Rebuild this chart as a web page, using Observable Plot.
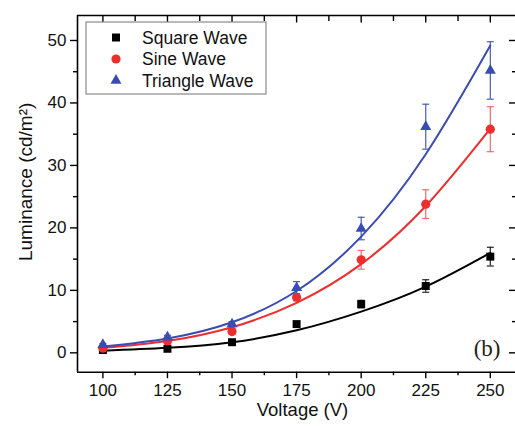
<!DOCTYPE html>
<html>
<head>
<meta charset="utf-8">
<script src="https://cdn.jsdelivr.net/npm/d3@7"></script>
<script src="https://cdn.jsdelivr.net/npm/@observablehq/plot@0.6"></script>
<style>
  html, body { margin: 0; padding: 0; background: #fff; }
  #chart { position: relative; width: 515px; height: 426px; }
</style>
</head>
<body>
<div id="chart"></div>
<script>
// ---- data ----
const voltage = [100, 125, 150, 175, 200, 225, 250];
const seriesNames = ["Square Wave", "Sine Wave", "Triangle Wave"];
const seriesColors = ["#000000", "#ee2e2e", "#3a4cb4"];
const errColors = ["#222222", "#f06a6a", "#4a5cbc"];
const seriesSymbols = ["square", "circle", "triangle"];

const squareLum = [0.45, 0.65, 1.7, 4.6, 7.8, 10.7, 15.4];
const squareErr = [0.15, 0.2, 0.25, 0.4, 0.6, 1.0, 1.5];
const sineLum = [0.75, 1.9, 3.4, 8.9, 14.9, 23.8, 35.8];
const sineErr = [0.2, 0.3, 0.4, 0.6, 1.5, 2.3, 3.6];
const triLum = [1.3, 2.5, 4.6, 10.4, 19.9, 36.2, 45.2];
const triErr = [0.2, 0.3, 0.4, 1.0, 1.8, 3.6, 4.6];

// fitted curves, read at each voltage
const squareFit = [0.35, 0.8, 1.7, 3.6, 6.6, 10.6, 16.0];
const sineFit = [0.8, 1.9, 4.1, 8.0, 14.2, 23.5, 35.9];
const triFit = [1.0, 2.3, 4.9, 9.9, 18.6, 31.8, 49.2];

const xMajor = [100, 125, 150, 175, 200, 225, 250];
const xMinor = [112.5, 137.5, 162.5, 187.5, 212.5, 237.5];
const yMajor = [0, 10, 20, 30, 40, 50];
const yMinor = [5, 15, 25, 35, 45];

// ---- build tables ----
const lums = [squareLum, sineLum, triLum];
const errs = [squareErr, sineErr, triErr];
const fits = [squareFit, sineFit, triFit];
const points = [];
const curves = [];
seriesNames.forEach((s, k) => {
  voltage.forEach((v, i) => {
    points.push({series: s, k, v, lum: lums[k][i], lo: lums[k][i] - errs[k][i], hi: lums[k][i] + errs[k][i]});
    curves.push({series: s, k, v, lum: fits[k][i]});
  });
});

const hline = {draw(ctx, size) { const r = Math.sqrt(size / Math.PI); ctx.moveTo(-r, 0); ctx.lineTo(r, 0); }};
const font = "'Liberation Sans', Arial, sans-serif";
const xDomain = [90.17, 259.75];
const yDomain = [-3.1, 54.0];

const marks = [];
// error bars
seriesNames.forEach((s, k) => {
  const d = points.filter(p => p.k === k);
  marks.push(Plot.ruleX(d, {x: "v", y1: "lo", y2: "hi", stroke: errColors[k], strokeWidth: 1.2}));
  marks.push(Plot.dot(d, {x: "v", y: "hi", symbol: hline, r: 3.5, stroke: errColors[k], strokeWidth: 1.2}));
  marks.push(Plot.dot(d, {x: "v", y: "lo", symbol: hline, r: 3.5, stroke: errColors[k], strokeWidth: 1.2}));
});
// fitted curves
seriesNames.forEach((s, k) => {
  marks.push(Plot.line(curves.filter(p => p.k === k), {x: "v", y: "lum", curve: "natural", stroke: seriesColors[k], strokeWidth: 2}));
});
// markers
const markerR = [4.5, 4.6, 4.1];
seriesNames.forEach((s, k) => {
  marks.push(Plot.dot(points.filter(p => p.k === k), {x: "v", y: "lum", symbol: seriesSymbols[k], r: markerR[k], fill: seriesColors[k], stroke: "none"}));
});

// frame lines (left, top, bottom)
marks.push(Plot.ruleX([xDomain[0]], {stroke: "#000", strokeWidth: 1.6}));
marks.push(Plot.ruleY([yDomain[0], yDomain[1]], {stroke: "#000", strokeWidth: 1.6}));

// axes
marks.push(Plot.axisX(xMajor, {anchor: "bottom", tickSize: 6.5, tickPadding: 5, tickFormat: d => String(d), fontSize: 17, stroke: "#000", strokeWidth: 1.4, label: null}));
marks.push(Plot.axisX(xMinor, {anchor: "bottom", tickSize: 3.5, tickFormat: null, text: null, stroke: "#000", strokeWidth: 1.4, label: null}));
marks.push(Plot.axisX(xMajor, {anchor: "top", tickSize: 6.5, dy: 6.5, text: null, stroke: "#000", strokeWidth: 1.4, label: null}));
marks.push(Plot.axisX(xMinor, {anchor: "top", tickSize: 5, dy: 5, text: null, stroke: "#000", strokeWidth: 1.4, label: null}));
marks.push(Plot.axisY(yMajor, {anchor: "left", tickSize: 7, tickPadding: 4, tickFormat: d => String(d), fontSize: 17, stroke: "#000", strokeWidth: 1.4, label: null}));
marks.push(Plot.axisY(yMinor, {anchor: "left", tickSize: 4, text: null, stroke: "#000", strokeWidth: 1.4, label: null}));
marks.push(Plot.axisY(yMajor, {anchor: "right", tickSize: 7, dx: -7, text: null, stroke: "#000", strokeWidth: 1.4, label: null}));
marks.push(Plot.axisY(yMinor, {anchor: "right", tickSize: 4, dx: -4, text: null, stroke: "#000", strokeWidth: 1.4, label: null}));

// axis titles and panel label
marks.push(Plot.text(["Voltage (V)"], {frameAnchor: "bottom", dx: 6, dy: 44, text: d => d, lineAnchor: "bottom", textAnchor: "middle", fontSize: 18.5, fill: "#111"}));
marks.push(Plot.text(["Luminance (cd/m²)"], {frameAnchor: "left", dx: -52, dy: -12, rotate: -90, text: d => d, textAnchor: "middle", lineAnchor: "middle", fontSize: 19, fill: "#111"}));
marks.push(Plot.text(["(b)"], {frameAnchor: "bottom-right", dx: -15, dy: -16, text: d => d, textAnchor: "end", lineAnchor: "bottom", fontSize: 23, fontFamily: "'Liberation Serif', 'Times New Roman', serif", fill: "#222"}));

const chart = Plot.plot({
  width: 515,
  height: 426,
  marginLeft: 77,
  marginRight: 0,
  marginTop: 15,
  marginBottom: 54.3,
  x: {domain: xDomain},
  y: {domain: yDomain},
  style: {fontFamily: font, fontSize: "17px", color: "#111", background: "#fff"},
  marks
});

// legend inside the plot (drawn on top)
const svg = d3.select(chart.tagName.toLowerCase() === "svg" ? chart : chart.querySelector("svg"));
const lg = svg.append("g").attr("transform", "translate(86,22)");
lg.append("rect").attr("width", 180).attr("height", 72).attr("fill", "#fff").attr("stroke", "#8a8a8a").attr("stroke-width", 1.2);
const rowY = [15.5, 37, 58.5];
seriesNames.forEach((s, k) => {
  const sym = {square: d3.symbolSquare, circle: d3.symbolCircle, triangle: d3.symbolTriangle}[seriesSymbols[k]];
  const r = markerR[k];
  lg.append("path").attr("d", d3.symbol(sym, Math.PI * r * r)()).attr("transform", `translate(30,${rowY[k]})`).attr("fill", seriesColors[k]);
  lg.append("text").attr("x", 56).attr("y", rowY[k]).attr("dy", "0.36em").attr("text-anchor", "start").attr("font-family", font).attr("font-size", 17.5).attr("fill", "#111").text(s);
});

document.getElementById("chart").appendChild(chart);
</script>
</body>
</html>
